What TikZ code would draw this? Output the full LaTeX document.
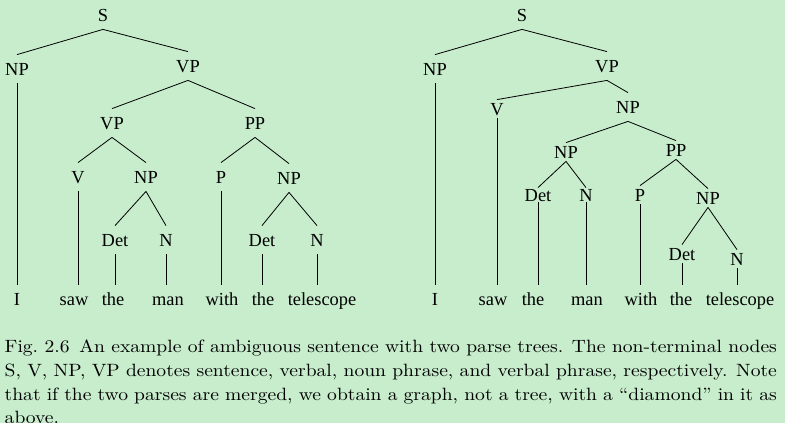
\documentclass[tikz,border=0pt]{standalone}
\usepackage{fontspec}
\newfontfamily\treefont{Liberation Serif}
\newfontfamily\capfont{lmroman10-regular.otf}
\definecolor{paper}{RGB}{199,237,204}

\begin{document}
\begin{tikzpicture}[x=1pt,y=-1pt,
    cat/.style={font=\treefont\fontsize{18.4}{20}\selectfont, text height=12.4pt, text depth=0pt, inner xsep=2pt, inner ysep=8pt},
    tight/.style={inner ysep=3pt},
    tighter/.style={inner ysep=1pt},
    branch/.style={black, line width=0.8pt}]
    % Fond
    \fill[paper] (0,0) rectangle (785,423);
    \useasboundingbox (0,0) rectangle (785,423);

    % Premier arbre : le PP attaché au VP
    \node[cat] (aS) at (103,15) {S};
    \node[cat] (aNP) at (17,69) {NP};
    \node[cat] (aVP) at (188,66) {VP};
    \node[cat] (aVPl) at (112,123) {VP};
    \node[cat] (aPP) at (255,123) {PP};
    \node[cat] (aV) at (78,177) {V};
    \node[cat] (aNPo) at (146,177) {NP};
    \node[cat] (aP) at (221,177) {P};
    \node[cat] (aNPp) at (289,178) {NP};
    \node[cat] (aDet) at (115,240) {Det};
    \node[cat] (aN) at (166,240) {N};
    \node[cat] (aDetp) at (262,240) {Det};
    \node[cat] (aNp) at (317,240) {N};

    % Mots
    \node[cat] (aI) at (17,299) {I};
    \node[cat] (asaw) at (74,299) {saw};
    \node[cat] (athe) at (113,299) {the};
    \node[cat] (aman) at (168,299) {man};
    \node[cat] (awith) at (222,299) {with};
    \node[cat] (athep) at (263,299) {the};
    \node[cat] (atel) at (322,299) {telescope};

    \draw[branch] (aS.south) -- (aNP.north) (aS.south) -- (aVP.north);
    \draw[branch] (aVP.south) -- (aVPl.north) (aVP.south) -- (aPP.north);
    \draw[branch] (aVPl.south) -- (aV.north) (aVPl.south) -- (aNPo.north);
    \draw[branch] (aPP.south) -- (aP.north) (aPP.south) -- (aNPp.north);
    \draw[branch] (aNPo.south) -- (aDet.north) (aNPo.south) -- (aN.north);
    \draw[branch] (aNPp.south) -- (aDetp.north) (aNPp.south) -- (aNp.north);
    % Branches verticales vers les mots
    \draw[branch] (aNP.south) -- (aNP.south |- aI.north);
    \draw[branch] (aV.south) -- (aV.south |- asaw.north);
    \draw[branch] (aDet.south) -- (aDet.south |- athe.north);
    \draw[branch] (aN.south) -- (aN.south |- aman.north);
    \draw[branch] (aP.south) -- (aP.south |- awith.north);
    \draw[branch] (aDetp.south) -- (aDetp.south |- athep.north);
    \draw[branch] (aNp.south) -- (aNp.south |- atel.north);

    % Second arbre : le PP attaché au NP
    \node[cat] (bS) at (522,15) {S};
    \node[cat] (bNP) at (435,69) {NP};
    \node[cat] (bVP) at (607,66) {VP};
    \node[cat, tight] (bV) at (497,109) {V};
    \node[cat] (bNPo) at (628,107) {NP};
    \node[cat, tight] (bNPl) at (566,152) {NP};
    \node[cat, tight] (bPP) at (676,150) {PP};
    \node[cat, tighter] (bDet) at (538,195) {Det};
    \node[cat, tighter] (bN) at (586,195) {N};
    \node[cat, tight] (bP) at (640,195) {P};
    \node[cat, tight] (bNPp) at (708,198) {NP};
    \node[cat, tight] (bDetp) at (682,254) {Det};
    \node[cat, tight] (bNp) at (737,259) {N};

    % Mots
    \node[cat] (bI) at (435,299) {I};
    \node[cat] (bsaw) at (493,299) {saw};
    \node[cat] (bthe) at (533,299) {the};
    \node[cat] (bman) at (587,299) {man};
    \node[cat] (bwith) at (641,299) {with};
    \node[cat] (bthep) at (681,299) {the};
    \node[cat] (btel) at (740,299) {telescope};

    \draw[branch] (bS.south) -- (bNP.north) (bS.south) -- (bVP.north);
    \draw[branch] (bVP.south) -- (bV.north) (bVP.south) -- (bNPo.north);
    \draw[branch] (bNPo.south) -- (bNPl.north) (bNPo.south) -- (bPP.north);
    \draw[branch] (bNPl.south) -- (bDet.north) (bNPl.south) -- (bN.north);
    \draw[branch] (bPP.south) -- (bP.north) (bPP.south) -- (bNPp.north);
    \draw[branch] (bNPp.south) -- (bDetp.north) (bNPp.south) -- (bNp.north);
    % Branches verticales vers les mots
    \draw[branch] (bNP.south) -- (bNP.south |- bI.north);
    \draw[branch] (bV.south) -- (bV.south |- bsaw.north);
    \draw[branch] (bDet.south) -- (bDet.south |- bthe.north);
    \draw[branch] (bN.south) -- (bN.south |- bman.north);
    \draw[branch] (bP.south) -- (bP.south |- bwith.north);
    \draw[branch] (bDetp.south) -- (bDetp.south |- bthep.north);
    \draw[branch] (bNp.south) -- (bNp.south |- btel.north);

    % Légende (texte un peu élargi, comme dans l'original)
    \node[anchor=north west, inner sep=0pt, text width=702pt, align=justify,
      xscale=1.1, transform shape,
      font=\capfont\fontsize{17.8}{23.6}\selectfont] (cap) at (4.5,340) {Fig.~2.6\enskip An example of ambiguous sentence with two parse trees. The non-terminal nodes\linebreak
      S, V, NP, VP denotes sentence, verbal, noun phrase, and verbal phrase, respectively. Note\linebreak
      that if the two parses are merged, we obtain a graph, not a tree, with a “diamond” in it as\linebreak
      above.};
\end{tikzpicture}
\end{document}
